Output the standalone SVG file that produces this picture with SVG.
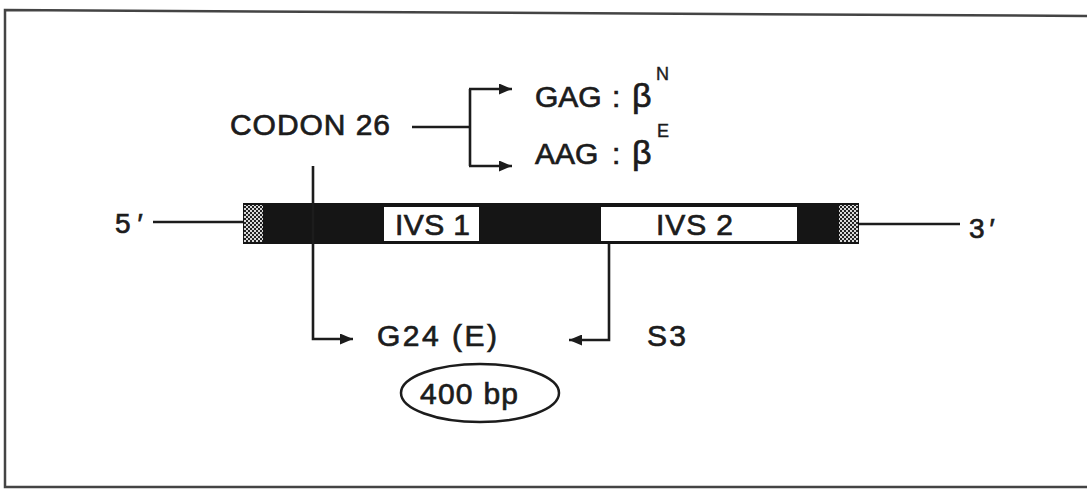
<svg xmlns="http://www.w3.org/2000/svg" width="1087" height="491" viewBox="0 0 1087 491">
  <defs>
    <style>
      .t { font-family: "Liberation Sans", Arial, sans-serif; fill: #1c1c1c; stroke: #1c1c1c; stroke-width: 0.7; }
      .lbl { font-size: 30px; }
      .beta { font-size: 34px; }
      .sup { font-size: 18px; stroke-width: 0.4; }
      .ln { fill: none; stroke: #1c1c1c; stroke-width: 2.6; }
    </style>
    <marker id="arr" viewBox="0 0 13 11" refX="13" refY="5.5" markerWidth="13" markerHeight="11" markerUnits="userSpaceOnUse" orient="auto">
      <path d="M0,0 L13,5.5 L0,11 Z" fill="#1c1c1c"/>
    </marker>
    <pattern id="stip" width="4" height="4" patternUnits="userSpaceOnUse">
      <rect width="4" height="4" fill="#222"/>
      <rect x="0" y="0" width="2" height="2" fill="#d8d8d8"/>
      <rect x="2" y="2" width="2" height="2" fill="#d8d8d8"/>
    </pattern>
  </defs>

  <rect width="1087" height="491" fill="#ffffff"/>

  <!-- frame -->
  <path d="M1087,16 L5,10 L5,487 L1087,487" fill="none" stroke="#444" stroke-width="2.5"/>

  <!-- gene -->
  <g id="gene">
    <line x1="153" y1="222" x2="243" y2="222" class="ln"/>
    <line x1="859" y1="224" x2="960" y2="224" class="ln"/>
    <rect x="243" y="203" width="616" height="41" fill="#151515"/>
    <rect x="244" y="205" width="19" height="37" fill="url(#stip)"/>
    <rect x="839" y="205" width="19" height="37" fill="url(#stip)"/>
  </g>

  <g id="ivs1">
    <rect x="384" y="207" width="95" height="34" fill="#ffffff"/>
    <text class="t lbl" x="395" y="235" textLength="75" lengthAdjust="spacing">IVS 1</text>
  </g>

  <g id="ivs2">
    <rect x="601" y="207" width="196" height="34" fill="#ffffff"/>
    <text class="t lbl" x="656" y="235" textLength="77" lengthAdjust="spacing">IVS 2</text>
  </g>

  <g id="end5">
    <text class="t" font-size="28" x="115" y="233">5<tspan dx="7">′</tspan></text>
  </g>

  <g id="end3">
    <text class="t" font-size="28" x="969" y="238">3<tspan dx="5">′</tspan></text>
  </g>

  <g id="codon26">
    <text class="t lbl" x="230" y="135" textLength="160" lengthAdjust="spacing">CODON 26</text>
  </g>

  <g id="gag">
    <text class="t lbl" x="535" y="107">GAG <tspan x="612">:</tspan><tspan class="beta" x="632">β</tspan></text>
    <text class="t sup" x="656" y="80">N</text>
  </g>

  <g id="aag">
    <text class="t lbl" x="535" y="164">AAG <tspan x="612">:</tspan><tspan class="beta" x="632">β</tspan></text>
    <text class="t sup" x="657" y="137">E</text>
  </g>

  <g id="g24">
    <text class="t lbl" x="377" y="346" textLength="120" lengthAdjust="spacing">G24 (E)</text>
  </g>

  <g id="s3">
    <text class="t lbl" x="647" y="346" textLength="39" lengthAdjust="spacing">S3</text>
  </g>

  <g id="product">
    <ellipse cx="480" cy="393" rx="79" ry="29" fill="none" stroke="#1c1c1c" stroke-width="2.5"/>
    <text class="t lbl" x="420" y="404" textLength="98" lengthAdjust="spacing">400 bp</text>
  </g>

  <!-- connectors -->
  <g id="connectors">
    <path class="ln" d="M412,127 H470"/>
    <path class="ln" d="M470,89 V166"/>
    <path class="ln" d="M469,89 H512" marker-end="url(#arr)"/>
    <path class="ln" d="M469,166 H512" marker-end="url(#arr)"/>
    <path class="ln" d="M313,166 V339 H353" marker-end="url(#arr)"/>
    <path class="ln" d="M609,244 V340 H569" marker-end="url(#arr)"/>
  </g>
</svg>
